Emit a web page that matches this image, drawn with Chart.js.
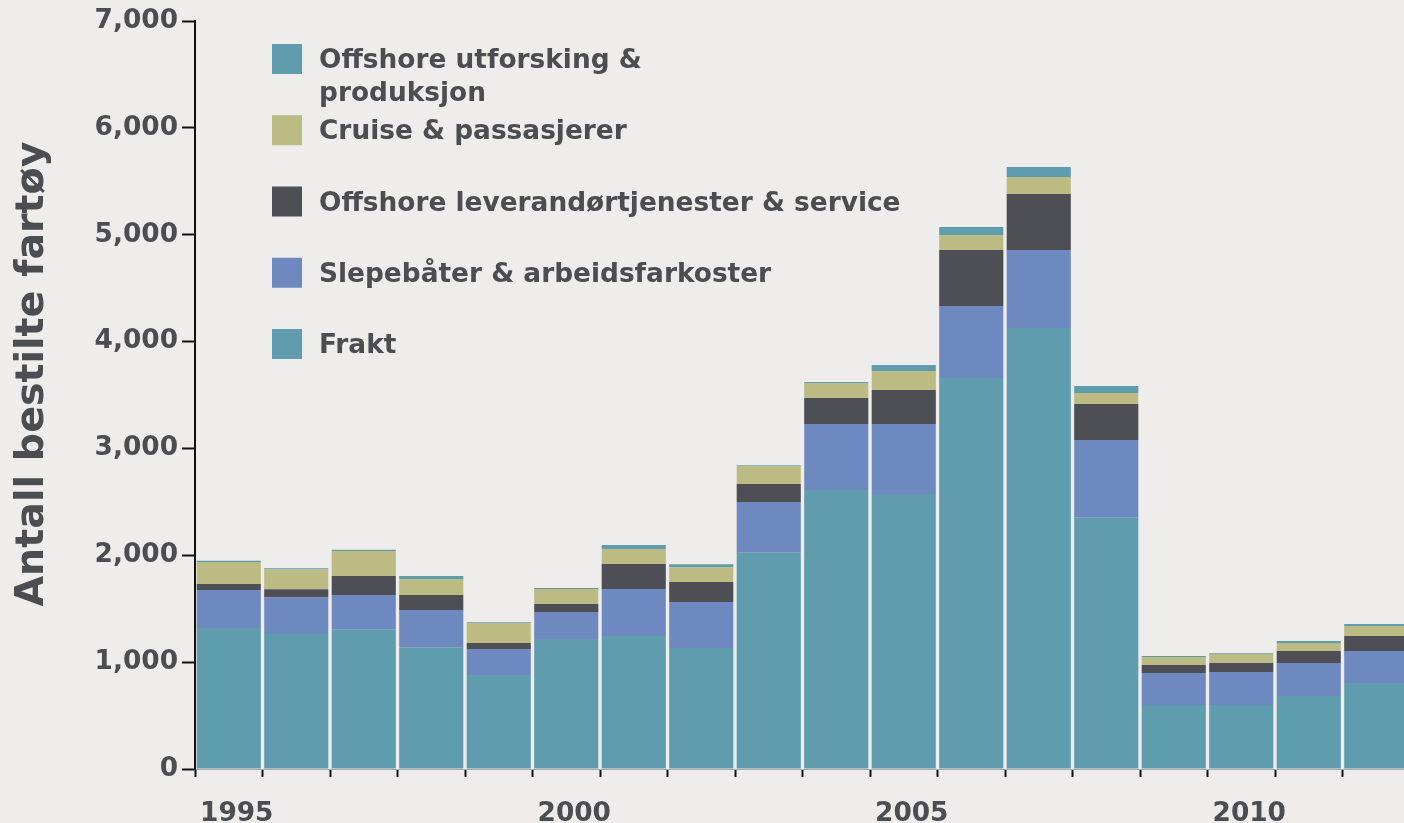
<!DOCTYPE html>
<html>
<head>
<meta charset="utf-8">
<title>Antall bestilte fartøy</title>
<script src="https://cdn.jsdelivr.net/npm/chart.js@4.4.0/dist/chart.umd.min.js"></script>
<style>
  html, body { margin: 0; padding: 0; background: #eeedeb; overflow: hidden; }
  canvas { display: block; }
</style>
</head>
<body>
<canvas id="grafikkFartoy" width="1416" height="823"></canvas>
<script>
// år og verdier (lest av bildet)
const aar = ['1995', '1996', '1997', '1998', '1999', '2000', '2001', '2002', '2003',
             '2004', '2005', '2006', '2007', '2008', '2009', '2010', '2011', '2012'];

const frakt       = [1320, 1263, 1304, 1139, 880, 1217, 1245, 1132, 2024, 2611, 2574, 3659, 4127, 2352, 599, 599, 683, 805];
const slepebater  = [356, 343, 325, 349, 243, 253, 440, 430, 474, 618, 655, 674, 730, 727, 300, 309, 309, 300];
const leverandor  = [56, 75, 178, 140, 56, 75, 234, 187, 168, 243, 318, 524, 524, 337, 75, 84, 112, 140];
const cruise      = [206, 187, 234, 150, 187, 140, 140, 140, 168, 140, 178, 140, 159, 103, 75, 84, 75, 94];
const utforsking  = [10, 10, 10, 28, 8, 8, 37, 28, 8, 10, 56, 75, 94, 66, 8, 8, 19, 19];

const yTicks = [0, 1000, 2000, 3000, 4000, 5000, 6000, 7000];
const yTittel = 'Antall bestilte fartøy';

const tekstFarge = '#4c4d51';
Chart.defaults.font.family = '"DejaVu Sans", Verdana, sans-serif';
Chart.defaults.color = tekstFarge;

// egen tegnforklaring + y-tittel
const tegnTekst = {
  id: 'tegnTekst',
  afterDraw(chart) {
    const ctx = chart.ctx;
    ctx.save();
    ctx.translate(43, 374);
    ctx.rotate(-Math.PI / 2);
    ctx.font = 'bold 39.6px "DejaVu Sans"';
    ctx.fillStyle = tekstFarge;
    ctx.textAlign = 'center';
    ctx.textBaseline = 'alphabetic';
    ctx.fillText(yTittel, 0, 0);
    ctx.restore();

    ctx.save();
    ctx.font = 'bold 26.4px "DejaVu Sans"';
    ctx.textAlign = 'left';
    ctx.textBaseline = 'alphabetic';
    const ds = chart.data.datasets.slice().reverse();
    ds.forEach((d, k) => {
      const top = 44 + k * 71.25;
      ctx.fillStyle = d.backgroundColor;
      ctx.fillRect(272, top, 30, 30);
      ctx.fillStyle = tekstFarge;
      d.label.split('\n').forEach((linje, j) => {
        ctx.fillText(linje, 319, top + 24 + j * 33);
      });
    });
    ctx.restore();
  }
};

const graficoFartoy = new Chart(document.getElementById('grafikkFartoy'), {
  type: 'bar',
  data: {
    labels: aar,
    datasets: [
      { label: 'Frakt', data: frakt, backgroundColor: '#5f9cae' },
      { label: 'Slepebåter & arbeidsfarkoster', data: slepebater, backgroundColor: '#6d89c0' },
      { label: 'Offshore leverandørtjenester & service', data: leverandor, backgroundColor: '#4e4f54' },
      { label: 'Cruise & passasjerer', data: cruise, backgroundColor: '#bbbb83' },
      { label: 'Offshore utforsking &\nproduksjon', data: utforsking, backgroundColor: '#5f9cae' }
    ]
  },
  options: {
    responsive: false,
    animation: false,
    layout: { padding: { top: 21, right: 6, bottom: 0, left: 0 } },
    datasets: { bar: { barPercentage: 1, categoryPercentage: 0.95, borderWidth: 0 } },
    plugins: { legend: { display: false }, tooltip: { enabled: false } },
    scales: {
      x: {
        stacked: true,
        grid: { offset: true, drawOnChartArea: false, drawTicks: true, tickLength: 8, tickColor: '#111', tickWidth: 2 },
        border: { color: '#a9a9a9', width: 1 },
        ticks: {
          autoSkip: false,
          maxRotation: 0,
          labelOffset: 8,
          padding: 21,
          font: { size: 26.4, weight: 'bold' },
          callback: function (v) {
            const l = this.getLabelForValue(v);
            return Number(l) % 5 === 0 ? l : '';
          }
        },
        afterFit: s => { s.height = 54; }
      },
      y: {
        stacked: true,
        min: yTicks[0],
        max: yTicks[yTicks.length - 1],
        afterBuildTicks: s => { s.ticks = yTicks.map(v => ({ value: v })); },
        ticks: {
          padding: 4,
          font: { size: 26.4, weight: 'bold' },
          callback: v => v.toLocaleString('en-US')
        },
        grid: { drawOnChartArea: false, tickLength: 13, tickColor: '#111', tickWidth: 2 },
        border: { color: '#111', width: 2 },
        afterFit: s => { s.width = 195; }
      }
    }
  },
  plugins: [tegnTekst]
});
</script>
</body>
</html>
